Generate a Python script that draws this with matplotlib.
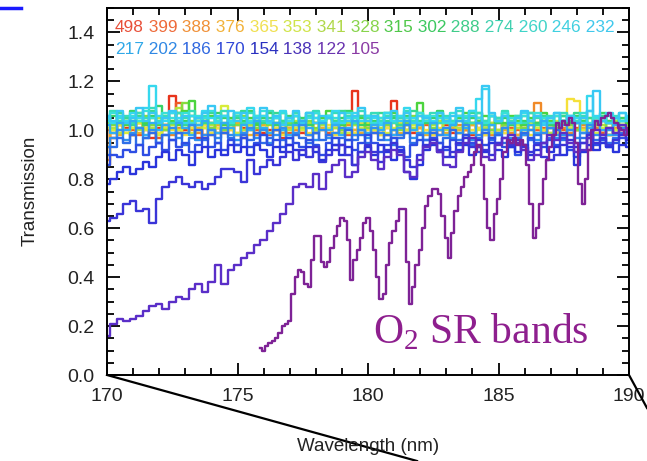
import numpy as np
import matplotlib
matplotlib.use("Agg")
import matplotlib.pyplot as plt
from matplotlib.lines import Line2D

# ---------------- data ----------------
altitudes = ["498", "399", "388", "376", "365", "353", "341", "328", "315", "302",
             "288", "274", "260", "246", "232", "217", "202", "186", "170", "154",
             "138", "122", "105"]

# common wavelength sampling (nm) for the grid-sampled spectra
wl = np.round(np.arange(170.0, 190.001, 0.25), 3)

t498 = [1.00, 0.97, 1.02, 1.01, 0.98, 1.03, 1.00, 0.97, 1.01, 1.02,
        1.14, 0.99, 1.00, 1.03, 0.97, 1.01, 1.02, 0.99, 1.00, 1.04,
        0.98, 1.01, 1.00, 1.03, 0.99, 1.00, 1.02, 0.97, 1.01, 1.00,
        0.99, 1.03, 1.00, 1.01, 0.98, 1.02, 1.00, 1.03, 1.16, 0.99,
        1.01, 1.00, 1.03, 0.98, 1.12, 1.02, 1.00, 0.99, 1.01, 1.03,
        0.98, 1.00, 1.02, 0.99, 1.01, 1.00, 0.98, 1.03, 1.01, 1.00,
        0.99, 1.02, 1.00, 0.98, 1.01, 1.03, 1.00, 0.99, 1.02, 1.00,
        0.98, 1.01, 1.00, 1.02, 0.99, 1.01, 1.00, 0.98, 1.02, 1.00,
        1.01]
t399 = [0.93, 1.01, 0.99, 1.03, 1.00, 0.98, 1.02, 1.01, 0.97, 1.00,
        1.03, 1.11, 0.99, 1.02, 1.00, 0.98, 1.03, 1.01, 0.99, 1.00,
        1.02, 0.97, 1.01, 1.00, 1.03, 0.98, 1.00, 1.02, 0.99, 1.01,
        1.00, 0.98, 1.03, 1.00, 0.99, 1.01, 1.02, 0.98, 1.00, 1.03,
        1.01, 0.99, 1.00, 1.02, 0.98, 1.01, 1.03, 1.00, 0.99, 1.02,
        1.00, 0.98, 1.01, 1.03, 0.99, 1.00, 1.02, 1.01, 0.98, 1.00,
        1.03, 0.99, 1.01, 1.00, 0.98, 1.02, 1.00, 1.01, 0.99, 1.03,
        1.00, 0.98, 1.01, 1.00, 0.92, 1.02, 0.99, 1.01, 1.00, 0.98,
        1.00]
t388 = [0.88, 0.99, 1.02, 1.00, 0.98, 1.03, 1.01, 0.99, 1.00, 1.02,
        0.98, 1.01, 1.03, 1.00, 0.99, 1.02, 0.98, 1.01, 1.00, 1.03,
        0.99, 1.00, 1.02, 0.98, 1.01, 1.03, 1.00, 0.99, 1.01, 1.00,
        1.02, 0.98, 1.00, 1.03, 1.01, 0.99, 1.00, 1.02, 0.98, 1.01,
        1.00, 1.03, 0.99, 1.01, 1.00, 0.98, 1.02, 1.00, 1.01, 0.99,
        1.03, 1.00, 0.98, 1.01, 1.02, 1.00, 0.99, 1.03, 1.01, 0.98,
        1.00, 1.02, 0.99, 1.01, 1.00, 1.03, 1.11, 1.00, 0.98, 1.02,
        1.01, 0.99, 1.00, 1.02, 0.98, 1.01, 1.00, 1.03, 0.99, 1.01,
        1.00]
t376 = [0.86, 1.00, 0.98, 1.02, 1.01, 0.99, 1.03, 1.00, 0.98, 1.01,
        1.02, 1.00, 0.99, 1.03, 1.01, 0.98, 1.00, 1.02, 0.99, 1.01,
        1.03, 1.00, 0.98, 1.01, 1.02, 0.99, 1.00, 1.03, 1.01, 0.98,
        1.00, 1.02, 0.99, 1.01, 1.00, 0.98, 1.03, 1.01, 1.00, 0.99,
        1.02, 1.00, 0.98, 1.01, 1.03, 0.99, 1.00, 1.02, 1.01, 0.98,
        1.00, 1.03, 0.99, 1.01, 1.00, 0.98, 1.02, 0.94, 1.01, 1.03,
        0.99, 1.00, 1.02, 0.98, 1.01, 1.00, 1.03, 0.99, 1.01, 1.00,
        0.98, 1.02, 1.00, 1.01, 0.99, 1.03, 1.00, 0.98, 1.01, 1.00,
        1.02]
t365 = [1.01, 0.99, 1.02, 1.00, 0.98, 1.03, 1.01, 1.00, 0.99, 1.02,
        1.00, 1.03, 0.98, 1.01, 1.00, 1.02, 0.99, 1.01, 1.03, 1.00,
        0.98, 1.02, 1.01, 0.99, 1.00, 1.03, 1.01, 0.98, 1.00, 1.02,
        1.01, 0.99, 1.03, 1.00, 1.02, 0.98, 1.01, 1.00, 0.99, 1.03,
        1.00, 1.02, 0.98, 1.01, 1.00, 1.03, 0.99, 1.01, 1.02, 1.00,
        0.98, 1.01, 1.03, 1.00, 0.99, 1.02, 1.00, 1.01, 0.98, 1.03,
        1.00, 0.99, 1.02, 1.01, 1.00, 0.98, 1.03, 1.00, 1.01, 0.99,
        1.02, 1.13, 1.12, 1.00, 0.99, 1.02, 1.01, 0.98, 1.00, 1.02,
        1.01]
t353 = [1.02, 1.00, 1.04, 0.99, 1.01, 1.03, 1.00, 1.02, 0.98, 1.01,
        1.03, 1.00, 1.02, 0.99, 1.04, 1.01, 1.00, 1.03, 1.10, 1.01,
        0.99, 1.02, 1.00, 1.04, 1.01, 0.99, 1.02, 1.00, 1.03, 1.01,
        1.00, 1.03, 0.99, 1.02, 1.01, 1.04, 1.00, 0.99, 1.02, 1.01,
        1.03, 1.00, 1.02, 0.99, 1.01, 1.04, 1.00, 1.02, 0.99, 1.03,
        1.01, 1.00, 1.04, 1.02, 0.99, 1.01, 1.03, 1.00, 1.02, 0.99,
        1.04, 1.01, 1.00, 1.02, 0.99, 1.03, 1.01, 1.00, 1.02, 1.04,
        0.99, 1.01, 1.03, 1.00, 1.02, 0.99, 1.01, 1.04, 1.00, 1.02,
        1.01]
t341 = [1.03, 1.01, 0.99, 1.04, 1.02, 1.00, 1.03, 1.01, 1.05, 1.00,
        1.02, 1.09, 1.01, 1.03, 1.00, 1.04, 1.02, 0.99, 1.01, 1.03,
        1.05, 1.00, 1.02, 1.04, 1.01, 0.99, 1.03, 1.02, 1.00, 1.04,
        1.01, 1.03, 1.00, 1.02, 1.05, 1.01, 0.99, 1.03, 1.02, 1.00,
        1.04, 1.02, 1.01, 1.03, 1.00, 1.02, 1.04, 1.01, 1.03, 0.99,
        1.02, 1.04, 1.00, 1.03, 1.01, 1.02, 0.99, 1.04, 1.01, 1.03,
        1.00, 1.02, 1.05, 1.01, 1.03, 1.00, 1.02, 1.04, 0.99, 1.01,
        1.03, 1.02, 1.00, 1.04, 1.01, 1.03, 1.02, 1.00, 1.04, 1.01,
        1.02]
t328 = [1.04, 1.02, 1.00, 1.05, 1.03, 1.01, 1.06, 1.02, 1.04, 1.00,
        1.03, 1.07, 1.11, 1.04, 1.02, 1.05, 1.01, 1.03, 1.00, 1.04,
        1.02, 1.06, 1.03, 1.01, 1.04, 1.02, 1.05, 1.00, 1.03, 1.06,
        1.02, 1.04, 1.01, 1.03, 1.05, 1.02, 1.00, 1.04, 1.03, 1.06,
        1.01, 1.03, 1.05, 1.02, 1.04, 1.00, 1.03, 1.06, 1.02, 1.04,
        1.01, 1.05, 1.03, 1.02, 1.04, 1.01, 1.03, 1.05, 1.02, 1.00,
        1.04, 1.02, 1.05, 1.03, 1.01, 1.04, 1.02, 1.06, 1.03, 1.01,
        1.04, 1.02, 1.00, 1.03, 1.05, 1.02, 1.04, 1.01, 1.03, 1.02,
        1.04]
t315 = [1.05, 1.03, 1.06, 1.02, 1.04, 1.07, 1.03, 1.05, 1.02, 1.06,
        1.04, 1.02, 1.08, 1.12, 1.05, 1.03, 1.06, 1.04, 1.02, 1.05,
        1.07, 1.03, 1.05, 1.02, 1.06, 1.04, 1.03, 1.07, 1.05, 1.02,
        1.04, 1.06, 1.03, 1.05, 1.08, 1.04, 1.02, 1.06, 1.03, 1.05,
        1.02, 1.06, 1.04, 1.03, 1.07, 1.05, 1.02, 1.04, 1.11, 1.05,
        1.03, 1.06, 1.04, 1.02, 1.05, 1.07, 1.03, 1.04, 1.06, 1.02,
        1.05, 1.03, 1.06, 1.04, 1.02, 1.05, 1.03, 1.07, 1.04, 1.02,
        1.06, 1.04, 1.03, 1.05, 1.02, 1.04, 1.06, 1.03, 1.05, 1.04,
        1.03]
t302 = [1.04, 1.06, 1.03, 1.05, 1.08, 1.04, 1.02, 1.06, 1.10, 1.05,
        1.03, 1.07, 1.04, 1.06, 1.02, 1.05, 1.03, 1.07, 1.05, 1.02,
        1.06, 1.04, 1.08, 1.03, 1.05, 1.07, 1.02, 1.04, 1.06, 1.03,
        1.05, 1.02, 1.07, 1.04, 1.06, 1.03, 1.05, 1.08, 1.04, 1.02,
        1.06, 1.04, 1.03, 1.07, 1.05, 1.02, 1.06, 1.04, 1.07, 1.03,
        1.05, 1.08, 1.04, 1.02, 1.06, 1.03, 1.05, 1.07, 1.04, 1.06,
        1.03, 1.05, 1.02, 1.06, 1.04, 1.07, 1.03, 1.05, 1.02, 1.06,
        1.04, 1.03, 1.06, 1.04, 1.02, 1.05, 1.07, 1.04, 1.03, 1.05,
        1.04]
t288 = [1.06, 1.03, 1.07, 1.05, 1.02, 1.06, 1.04, 1.08, 1.03, 1.05,
        1.07, 1.04, 1.02, 1.06, 1.05, 1.03, 1.07, 1.04, 1.06, 1.02,
        1.05, 1.08, 1.04, 1.06, 1.03, 1.05, 1.07, 1.04, 1.02, 1.06,
        1.04, 1.07, 1.05, 1.03, 1.06, 1.04, 1.08, 1.05, 1.03, 1.06,
        1.05, 1.03, 1.07, 1.04, 1.06, 1.02, 1.05, 1.08, 1.04, 1.06,
        1.03, 1.07, 1.05, 1.04, 1.06, 1.03, 1.07, 1.05, 1.02, 1.06,
        1.04, 1.07, 1.03, 1.05, 1.06, 1.04, 1.02, 1.06, 1.05, 1.03,
        1.06, 1.04, 1.07, 1.03, 1.05, 1.04, 1.06, 1.03, 1.05, 1.04,
        1.05]
t274 = [1.05, 1.08, 1.04, 1.06, 1.03, 1.07, 1.05, 1.09, 1.04, 1.06,
        1.03, 1.07, 1.05, 1.08, 1.04, 1.06, 1.03, 1.05, 1.08, 1.04,
        1.06, 1.03, 1.07, 1.05, 1.04, 1.08, 1.06, 1.03, 1.05, 1.07,
        1.04, 1.06, 1.08, 1.03, 1.05, 1.07, 1.04, 1.06, 1.03, 1.08,
        1.05, 1.07, 1.04, 1.06, 1.03, 1.05, 1.08, 1.04, 1.06, 1.05,
        1.07, 1.03, 1.06, 1.04, 1.08, 1.05, 1.03, 1.07, 1.04, 1.06,
        1.05, 1.08, 1.04, 1.06, 1.03, 1.07, 1.05, 1.04, 1.06, 1.03,
        1.07, 1.05, 1.04, 1.06, 1.08, 1.04, 1.05, 1.03, 1.06, 1.04,
        1.05]
t260 = [1.04, 1.07, 1.05, 1.03, 1.06, 1.04, 1.08, 1.05, 1.03, 1.07,
        1.05, 1.04, 1.07, 1.03, 1.06, 1.05, 1.08, 1.04, 1.06, 1.03,
        1.07, 1.05, 1.04, 1.06, 1.08, 1.03, 1.05, 1.07, 1.04, 1.06,
        1.03, 1.05, 1.07, 1.04, 1.06, 1.05, 1.03, 1.07, 1.05, 1.04,
        1.06, 1.03, 1.05, 1.07, 1.04, 1.06, 1.05, 1.03, 1.07, 1.04,
        1.06, 1.05, 1.03, 1.07, 1.04, 1.06, 1.08, 1.05, 1.03, 1.06,
        1.04, 1.07, 1.05, 1.03, 1.06, 1.04, 1.07, 1.05, 1.03, 1.06,
        1.04, 1.06, 1.05, 1.07, 1.03, 1.05, 1.04, 1.06, 1.05, 1.07,
        1.05]
t246 = [1.05, 1.03, 1.06, 1.04, 1.07, 1.05, 1.09, 1.18, 1.06, 1.04,
        1.07, 1.05, 1.03, 1.06, 1.04, 1.08, 1.05, 1.03, 1.06, 1.04,
        1.07, 1.05, 1.09, 1.04, 1.06, 1.03, 1.05, 1.08, 1.04, 1.06,
        1.03, 1.07, 1.05, 1.04, 1.06, 1.08, 1.03, 1.05, 1.07, 1.04,
        1.06, 1.05, 1.03, 1.07, 1.04, 1.06, 1.09, 1.05, 1.03, 1.06,
        1.04, 1.07, 1.05, 1.03, 1.06, 1.04, 1.08, 1.13, 1.17, 1.06,
        1.04, 1.06, 1.03, 1.05, 1.07, 1.04, 1.06, 1.03, 1.05, 1.07,
        1.04, 1.06, 1.05, 1.03, 1.14, 1.06, 1.04, 1.07, 1.05, 1.04,
        1.06]
t232 = [1.06, 1.04, 1.08, 1.03, 1.05, 1.09, 1.04, 1.07, 1.03, 1.05,
        1.08, 1.04, 1.06, 1.02, 1.05, 1.07, 1.10, 1.06, 1.03, 1.08,
        1.04, 1.07, 1.03, 1.05, 1.09, 1.04, 1.06, 1.02, 1.05, 1.08,
        1.04, 1.07, 1.03, 1.06, 1.05, 1.03, 1.07, 1.04, 1.06, 1.09,
        1.04, 1.06, 1.02, 1.05, 1.08, 1.04, 1.07, 1.03, 1.06, 1.05,
        1.03, 1.07, 1.04, 1.06, 1.09, 1.04, 1.06, 1.03, 1.18, 1.07,
        1.04, 1.06, 1.03, 1.05, 1.08, 1.04, 1.06, 1.02, 1.05, 1.07,
        1.04, 1.06, 1.03, 1.05, 1.08, 1.16, 1.04, 1.03, 1.05, 1.07,
        1.04]
t217 = [1.02, 0.99, 1.03, 1.00, 1.04, 1.01, 0.98, 1.03, 1.00, 1.02,
        0.99, 1.03, 1.01, 0.98, 1.02, 1.04, 1.00, 0.99, 1.03, 1.01,
        0.98, 1.02, 1.00, 1.04, 1.01, 0.99, 1.03, 1.00, 0.98, 1.02,
        1.04, 1.01, 0.99, 1.03, 1.00, 1.02, 0.98, 1.01, 1.04, 1.00,
        0.99, 1.02, 1.00, 1.03, 0.98, 1.01, 1.04, 1.00, 1.02, 0.99,
        1.03, 1.00, 0.98, 1.02, 1.04, 1.01, 0.99, 1.03, 1.00, 1.02,
        0.98, 1.01, 1.03, 0.97, 1.00, 1.02, 0.99, 1.04, 1.01, 0.98,
        1.02, 1.00, 1.03, 0.99, 1.01, 1.04, 1.00, 0.98, 1.02, 1.01,
        1.00]
t202 = [0.93, 0.97, 1.00, 0.96, 0.99, 1.01, 0.97, 1.00, 0.95, 0.98,
        1.01, 0.97, 0.99, 1.02, 0.96, 0.98, 1.00, 0.97, 1.01, 0.98,
        0.96, 0.99, 1.01, 0.97, 1.00, 0.95, 0.98, 1.01, 0.97, 0.99,
        1.02, 0.98, 0.96, 1.00, 0.97, 0.99, 1.01, 0.96, 0.98, 1.00,
        0.97, 1.01, 0.99, 0.96, 1.00, 0.98, 1.02, 0.97, 0.99, 0.96,
        1.00, 0.98, 1.01, 0.97, 0.99, 1.02, 0.96, 0.98, 1.00, 0.97,
        0.99, 1.01, 0.97, 0.95, 0.98, 1.00, 0.96, 0.99, 1.01, 0.97,
        0.98, 1.00, 0.97, 0.99, 1.02, 0.98, 0.96, 1.00, 0.98, 1.01,
        0.99]
t186 = [0.90, 0.93, 0.97, 0.95, 0.98, 0.94, 0.97, 0.99, 0.95, 0.98,
        0.96, 0.99, 0.94, 0.97, 1.00, 0.96, 0.98, 0.95, 0.99, 0.97,
        0.94, 0.98, 0.96, 0.99, 0.95, 0.97, 1.00, 0.96, 0.94, 0.98,
        0.97, 0.95, 0.99, 0.96, 0.98, 0.94, 0.97, 1.00, 0.96, 0.98,
        0.95, 0.99, 0.96, 0.98, 0.94, 0.97, 0.99, 0.95, 0.98, 0.96,
        0.99, 0.95, 0.97, 1.00, 0.96, 0.98, 0.94, 0.97, 0.99, 0.96,
        0.98, 0.95, 0.93, 0.97, 0.99, 0.96, 0.98, 0.95, 0.97, 1.00,
        0.96, 0.98, 0.95, 0.97, 0.99, 0.96, 0.98, 0.95, 0.97, 0.99,
        0.97]
t170 = [0.86, 0.90, 0.89, 0.92, 0.91, 0.94, 0.90, 0.93, 0.95, 0.92,
        0.96, 0.93, 0.95, 0.91, 0.94, 0.97, 0.93, 0.95, 0.92, 0.96,
        0.94, 0.97, 0.93, 0.95, 0.98, 0.94, 0.96, 0.93, 0.97, 0.95,
        0.93, 0.96, 0.94, 0.90, 0.95, 0.97, 0.94, 0.96, 0.92, 0.95,
        0.98, 0.95, 0.91, 0.94, 0.97, 0.93, 0.89, 0.94, 0.96, 0.93,
        0.97, 0.95, 0.92, 0.96, 0.94, 0.98, 0.95, 0.91, 0.94, 0.97,
        0.95, 0.93, 0.96, 0.90, 0.94, 0.97, 0.95, 0.93, 0.96, 0.94,
        0.97, 0.92, 0.89, 0.95, 0.97, 0.94, 0.96, 0.93, 0.95, 0.97,
        0.95]
t154 = [0.78, 0.80, 0.83, 0.85, 0.82, 0.84, 0.87, 0.85, 0.89, 0.91,
        0.88, 0.92, 0.90, 0.86, 0.91, 0.93, 0.89, 0.92, 0.90, 0.94,
        0.91, 0.93, 0.90, 0.94, 0.92, 0.89, 0.93, 0.91, 0.94, 0.92,
        0.90, 0.93, 0.91, 0.88, 0.92, 0.94, 0.90, 0.93, 0.86, 0.91,
        0.93, 0.90, 0.94, 0.91, 0.88, 0.92, 0.83, 0.80, 0.86, 0.92,
        0.94, 0.91, 0.93, 0.89, 0.92, 0.94, 0.90, 0.93, 0.91, 0.95,
        0.92, 0.89, 0.93, 0.91, 0.94, 0.90, 0.92, 0.95, 0.91, 0.93,
        0.90, 0.93, 0.86, 0.91, 0.94, 0.92, 0.95, 0.93, 0.91, 0.94,
        0.93]
t138 = [0.63, 0.64, 0.66, 0.70, 0.71, 0.67, 0.68, 0.62, 0.72, 0.77,
        0.79, 0.81, 0.78, 0.77, 0.79, 0.76, 0.78, 0.81, 0.84, 0.84,
        0.83, 0.79, 0.88, 0.82, 0.85, 0.88, 0.86, 0.89, 0.91, 0.88,
        0.92, 0.89, 0.93, 0.87, 0.90, 0.92, 0.94, 0.90, 0.86, 0.91,
        0.94, 0.91, 0.87, 0.92, 0.95, 0.91, 0.88, 0.85, 0.90, 0.94,
        0.96, 0.92, 0.89, 0.91, 0.95, 0.97, 0.93, 0.96, 0.92, 0.90,
        0.95, 0.97, 0.94, 0.96, 0.93, 0.91, 0.94, 0.89, 0.88, 0.90,
        0.94, 0.96, 0.93, 0.95, 0.98, 0.95, 0.97, 0.94, 0.96, 0.98,
        0.96]
t122 = [0.16, 0.21, 0.23, 0.22, 0.23, 0.24, 0.26, 0.28, 0.29, 0.27,
        0.30, 0.32, 0.31, 0.35, 0.37, 0.34, 0.38, 0.45, 0.37, 0.43,
        0.45, 0.48, 0.50, 0.53, 0.55, 0.59, 0.62, 0.66, 0.70, 0.77,
        0.78, 0.77, 0.82, 0.76, 0.83, 0.86, 0.88, 0.81, 0.83, 0.89,
        0.91, 0.88, 0.84, 0.89, 0.92, 0.90, 0.83, 0.81, 0.88, 0.93,
        0.95, 0.91, 0.86, 0.85, 0.91, 0.95, 0.97, 0.93, 0.89, 0.88,
        0.94, 0.97, 0.98, 0.95, 0.92, 0.88, 0.90, 0.95, 0.98, 0.96,
        0.99, 0.95, 0.91, 0.92, 0.97, 1.00, 0.98, 1.01, 0.99, 1.02,
        1.00]

# lowest altitude (105 km): O2 Schumann-Runge band structure, finer sampling
wl105 = np.round(np.arange(175.875, 190.001, 0.125), 3)
t105 = [0.11, 0.10, 0.12, 0.13, 0.14, 0.15, 0.17, 0.20, 0.21, 0.22,
        0.33, 0.40, 0.43, 0.42, 0.37, 0.36, 0.47, 0.57, 0.57, 0.46,
        0.44, 0.46, 0.52, 0.57, 0.61, 0.64, 0.63, 0.55, 0.39, 0.47,
        0.51, 0.56, 0.62, 0.64, 0.59, 0.51, 0.40, 0.31, 0.33, 0.45,
        0.54, 0.59, 0.63, 0.68, 0.68, 0.46, 0.29, 0.36, 0.45, 0.51,
        0.60, 0.69, 0.73, 0.76, 0.76, 0.74, 0.65, 0.56, 0.48, 0.58,
        0.67, 0.73, 0.77, 0.81, 0.83, 0.86, 0.91, 0.94, 0.86, 0.72,
        0.60, 0.55, 0.66, 0.72, 0.80, 0.91, 0.96, 0.95, 0.97, 0.94,
        0.96, 0.94, 0.86, 0.70, 0.56, 0.60, 0.70, 0.80, 0.88, 0.93,
        0.98, 1.03, 1.01, 1.04, 1.02, 1.05, 1.03, 0.95, 0.78, 0.70,
        0.80, 0.92, 1.00, 1.04, 1.02, 1.05, 1.06, 1.07, 1.05, 1.03,
        1.01, 1.00, 0.98, 1.01]

grid_series = [t498, t399, t388, t376, t365, t353, t341, t328, t315, t302,
               t288, t274, t260, t246, t232, t217, t202, t186, t170, t154,
               t138, t122]

# ---------------- styles ----------------
colors = ["#e8341c", "#ee5a24", "#f08a28", "#f2ac2a", "#f5e03a", "#d8ec3a",
          "#b4e43c", "#86dc3e", "#4cd43e", "#38d266", "#38d890", "#38dcb8",
          "#38e0d8", "#36d8ee", "#38c8f4", "#30aef2", "#3090ee", "#2f6ee8",
          "#2e4ee4", "#2a34dc", "#3a34d8", "#5a2ec8", "#7e2296"]
legend_colors = ["#e8503a", "#ee6a3a", "#f09038", "#f2b23a", "#f0e050", "#d0e44a",
                 "#b0d84a", "#88d44c", "#50c84a", "#3cc860", "#40cc8a", "#40d0b0",
                 "#40d4c8", "#40d0e0", "#40c8ec", "#30a8e8", "#3088e4", "#3068e0",
                 "#3048d8", "#2a30c0", "#4a32b8", "#6a34b0", "#8a3aa4"]

sans = ["Liberation Sans", "DejaVu Sans"]
plt.rcParams["font.family"] = sans

W, H = 647, 461
fig = plt.figure(figsize=(W / 100, H / 100), dpi=100)
ax = fig.add_axes([107 / W, (H - 375) / H, 522 / W, 367 / H])

for s, c in zip(grid_series, colors[:-1]):
    ax.step(wl, s, where="mid", color=c, lw=1.7)
ax.step(wl105, t105, where="mid", color=colors[-1], lw=1.7)

ax.set_xlim(170, 190)
ax.set_ylim(0, 1.5)
ax.set_xticks([170, 175, 180, 185, 190])
ax.set_xticks(np.arange(170, 191, 1), minor=True)
ax.set_yticks([0.0, 0.2, 0.4, 0.6, 0.8, 1.0, 1.2, 1.4])
ax.set_yticks(np.arange(0, 1.501, 0.05), minor=True)
ax.set_yticklabels(["0.0", "0.2", "0.4", "0.6", "0.8", "1.0", "1.2", "1.4"])
ax.tick_params(which="both", direction="in", top=True, right=True, width=1.3,
               labelsize=14, colors="black", labelcolor="#222222")
ax.tick_params(which="major", length=9, pad=9)
ax.tick_params(which="minor", length=5)
for sp in ax.spines.values():
    sp.set_linewidth(1.4)

fig.text(368 / W, 1 - 446 / H, "Wavelength (nm)", ha="center", va="center",
         fontsize=13.5, color="#222222")
fig.text(30 / W, 1 - 191 / H, "Transmission", ha="center", va="center",
         rotation=90, fontsize=13.5, color="#222222")

# altitude legend (two rows of coloured numbers)
def colored_row(labels, cols, x0, y0):
    t = ax.text(x0, y0, labels[0], color=cols[0], fontsize=12.4, ha="left",
                va="center", transform=ax.transData)
    for lab, col in zip(labels[1:], cols[1:]):
        t = ax.annotate(" " + lab, xy=(1, 0), xycoords=t, xytext=(0, 0),
                        textcoords="offset points", color=col, fontsize=12.4,
                        ha="left", va="bottom")

colored_row(altitudes[:15], legend_colors[:15], 170.3, 1.42)
colored_row(altitudes[15:], legend_colors[15:], 170.3, 1.33)

ax.text(180.2, 0.13, "O$_\\mathregular{2}$ SR bands", fontsize=30, color="#8e1f8e",
        family=["Liberation Serif", "DejaVu Serif"], ha="left", va="baseline")

# slide decorations (zoom lines and blue rule)
fig.add_artist(Line2D([0, 21 / W], [1 - 8 / H, 1 - 8 / H], color="#1a1aff", lw=2.5,
                      transform=fig.transFigure))
fig.add_artist(Line2D([107 / W, 417 / W], [(H - 375) / H, 0], color="black", lw=1.6,
                      transform=fig.transFigure))
fig.add_artist(Line2D([629 / W, 1.0], [(H - 375) / H, (H - 408) / H], color="black",
                      lw=1.6, transform=fig.transFigure))

fig.savefig("out.png", dpi=100)
